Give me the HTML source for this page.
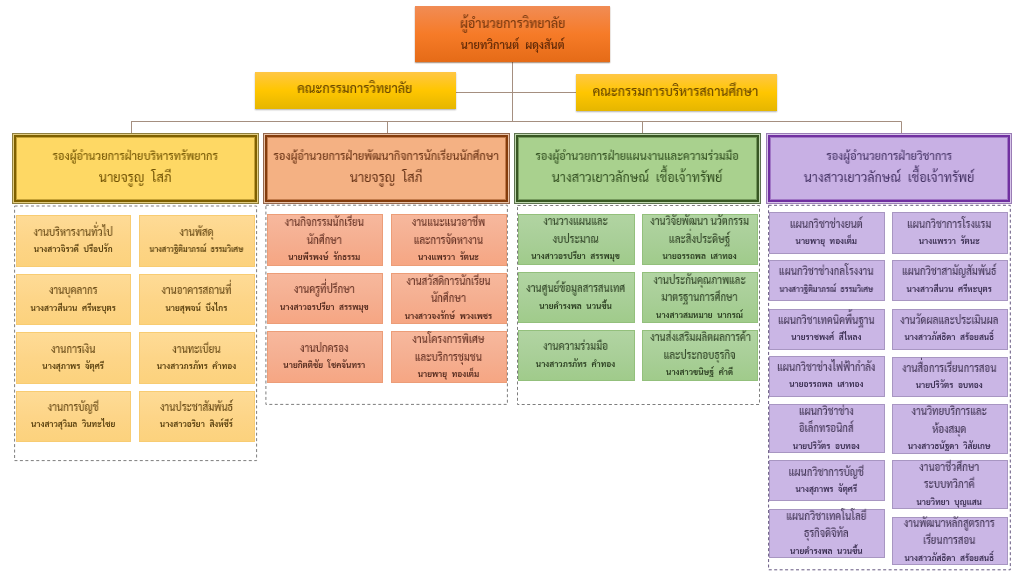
<!DOCTYPE html>
<html lang="th">
<head>
<meta charset="utf-8">
<title>โครงสร้างการบริหารวิทยาลัย</title>
<style>
html,body{margin:0;padding:0;background:#fff;}
body{width:1024px;height:576px;position:relative;overflow:hidden;font-family:"Liberation Sans","Sarabun","Noto Sans Thai","Loma",sans-serif;color:#333;}
.abs{position:absolute;box-sizing:border-box;}
.box{position:absolute;box-sizing:border-box;display:flex;flex-direction:column;justify-content:center;align-items:center;text-align:center;white-space:pre;}
.box div{width:100%;will-change:transform;}
svg{position:absolute;left:0;top:0;}
.top{background:linear-gradient(180deg,#f18c55 0%,#f67b28 50%,#e56b17 100%);box-shadow:0 1px 1.2px rgba(90,40,0,.55);}
.top{padding-top:1.4px;}
.top .t{font-size:12.8px;line-height:20.6px;transform:scaleX(.975);font-weight:500;}
.top .n{font-size:11px;line-height:20.6px;font-weight:600;}
.side{background:linear-gradient(180deg,#ffc746 0%,#ffc600 50%,#e5b600 100%);box-shadow:0 1px 1.5px rgba(0,0,0,.3);}
.side{padding:0 2px 2.6px 0;}
.sr .t{position:relative;top:.5px;}
.side .t{font-size:12.9px;line-height:20px;transform:scaleX(.975);font-weight:500;}
.panel .t{font-size:11.3px;line-height:21.5px;transform:scaleX(.972);font-weight:500;position:relative;top:-.5px;}
.panel .n{font-size:14.2px;line-height:21.5px;transform:scaleX(.9);font-weight:400;position:relative;top:-1.5px;}
.p1{background:#fed864;box-shadow:inset 0 0 0 1px #8f7f3f,inset 0 0 0 2px #e3cd80,inset 0 0 0 4px #7f6000,inset 0 0 0 5px rgba(127,96,0,.45);}
.p2{background:#f4b183;box-shadow:inset 0 0 0 1px #94674d,inset 0 0 0 2px #e8c3a8,inset 0 0 0 4px #843c0c,inset 0 0 0 5px rgba(132,60,12,.45);}
.p3{background:#a9d18e;box-shadow:inset 0 0 0 1px #5e7350,inset 0 0 0 2px #c0d8b0,inset 0 0 0 4px #385723,inset 0 0 0 5px rgba(56,87,35,.45);}
.p4{background:#c8b0e4;box-shadow:inset 0 0 0 1px #9a7db5,inset 0 0 0 2px #d8c6ea,inset 0 0 0 4px #7030a0,inset 0 0 0 5px rgba(112,48,160,.45);}
.panel .n.nw1{transform:scaleX(.888);}
.s .n.nw2{transform:scaleX(.91);}
.s{padding-right:1.2px;}
.s .t{font-size:11.1px;line-height:17.5px;transform:scaleX(.874);font-weight:500;}
.s .n{font-size:8.3px;line-height:17px;font-weight:600;}
.s1{background:linear-gradient(180deg,#fedb96 0%,#fdd588 50%,#fcd27d 100%);border:1px solid #f8cc72;}
.s2{background:linear-gradient(180deg,#f7b89d 0%,#f5af91 50%,#f6a683 100%);border:1px solid #ec9d78;}
.s3{background:linear-gradient(180deg,#b1d4a2 0%,#a9cf98 50%,#a0cb8b 100%);border:1px solid #93c07c;}
.s4{background:#cab6e5;border:1px solid #a896c2;}

.top .t{color:#7a3a10;} .top .n{color:#662c08;}
.side .t{color:#6a4800;}
.p1 .t{color:#7a5c08;} .p1 .n{color:#705204;}
.p2 .t{color:#70391a;} .p2 .n{color:#663216;}
.p3 .t{color:#385626;} .p3 .n{color:#324e20;}
.p4 .t{color:#4c3a6c;} .p4 .n{color:#443264;}
.s1 .t{color:#6a4c18;} .s1 .n{color:#503808;}
.s2 .t{color:#683426;} .s2 .n{color:#4c2418;}
.s3 .t{color:#34482a;} .s3 .n{color:#26381c;}
.s4 .t{color:#453858;} .s4 .n{color:#33284a;}
</style>
</head>
<body>
<svg width="1024" height="576" viewBox="0 0 1024 576"><line x1="512.5" y1="61" x2="512.5" y2="121.5" stroke="#a58f80" stroke-width="1"/><line x1="456" y1="92.5" x2="576" y2="92.5" stroke="#a58f80" stroke-width="1"/><line x1="131" y1="121.5" x2="901.5" y2="121.5" stroke="#a58f80" stroke-width="1"/><line x1="131.5" y1="121.5" x2="131.5" y2="133" stroke="#a58f80" stroke-width="1"/><line x1="387.5" y1="121.5" x2="387.5" y2="133" stroke="#a58f80" stroke-width="1"/><line x1="642.5" y1="121.5" x2="642.5" y2="133" stroke="#a58f80" stroke-width="1"/><line x1="901.5" y1="121.5" x2="901.5" y2="133" stroke="#a58f80" stroke-width="1"/><rect x="14.6" y="206" width="242" height="254.6" fill="none" stroke="#7d7d7d" stroke-width="1" stroke-dasharray="3 2.45"/><rect x="265.9" y="205.2" width="241.5" height="199.2" fill="none" stroke="#7d7d7d" stroke-width="1" stroke-dasharray="3 2.45"/><rect x="517.5" y="205.5" width="242" height="199" fill="none" stroke="#7d7d7d" stroke-width="1" stroke-dasharray="3 2.45"/><rect x="768.6" y="205.3" width="241.7" height="364.5" fill="none" stroke="#665880" stroke-width="1" stroke-dasharray="3 2.45"/></svg>
<div class="box top" style="left:415px;top:6px;width:195.4px;height:56px"><div class="t">ผู้อำนวยการวิทยาลัย</div><div class="n">นายทวิกานต์  ผดุงสันต์</div></div>
<div class="box side" style="left:254.5px;top:72px;width:201.5px;height:37px"><div class="t">คณะกรรมการวิทยาลัย</div></div>
<div class="box side sr" style="left:576.2px;top:74.2px;width:200.8px;height:36.4px"><div class="t">คณะกรรมการบริหารสถานศึกษา</div></div>
<div class="box panel p1" style="left:12px;top:133px;width:246.5px;height:70.5px"><div class="t">รองผู้อำนวยการฝ่ายบริหารทรัพยากร</div><div class="n">นายจรูญ  โสภี</div></div>
<div class="box panel p2" style="left:263.25px;top:133px;width:246.25px;height:70.5px"><div class="t">รองผู้อำนวยการฝ่ายพัฒนากิจการนักเรียนนักศึกษา</div><div class="n">นายจรูญ  โสภี</div></div>
<div class="box panel p3" style="left:514.25px;top:133px;width:246.25px;height:70.5px"><div class="t">รองผู้อำนวยการฝ่ายแผนงานและความร่วมมือ</div><div class="n nw1">นางสาวเยาวลักษณ์  เชื้อเจ้าทรัพย์</div></div>
<div class="box panel p4" style="left:765.5px;top:133px;width:246.25px;height:70.5px"><div class="t">รองผู้อำนวยการฝ่ายวิชาการ</div><div class="n nw1">นางสาวเยาวลักษณ์  เชื้อเจ้าทรัพย์</div></div>
<div class="box s s1" style="left:15.5px;top:215.25px;width:115.5px;height:51.5px"><div class="t">งานบริหารงานทั่วไป</div><div class="n">นางสาวจิรวดี  ปรือปรัก</div></div>
<div class="box s s1" style="left:139px;top:215.25px;width:116px;height:51.5px"><div class="t">งานพัสดุ</div><div class="n nw2">นางสาวฐิติมาภรณ์  ธรรมวิเศษ</div></div>
<div class="box s s1" style="left:15.5px;top:273.5px;width:115.5px;height:51.75px"><div class="t">งานบุคลากร</div><div class="n">นางสาวสีนวน  ศรีหะบุตร</div></div>
<div class="box s s1" style="left:139px;top:273.5px;width:116px;height:51.75px"><div class="t">งานอาคารสถานที่</div><div class="n">นายสุพจน์  บึงไกร</div></div>
<div class="box s s1" style="left:15.5px;top:332.25px;width:115.5px;height:51.5px"><div class="t">งานการเงิน</div><div class="n">นางสุภาพร  จัตุศรี</div></div>
<div class="box s s1" style="left:139px;top:332.25px;width:116px;height:51.5px"><div class="t">งานทะเบียน</div><div class="n">นางสาวภรภัทร  คำทอง</div></div>
<div class="box s s1" style="left:15.5px;top:390.5px;width:115.5px;height:51.25px"><div class="t">งานการบัญชี</div><div class="n">นางสาวสุวิมล  วินทะไชย</div></div>
<div class="box s s1" style="left:139px;top:390.5px;width:116px;height:51.25px"><div class="t">งานประชาสัมพันธ์</div><div class="n">นางสาวอริยา  สิงห์ชีร์</div></div>
<div class="box s s2" style="left:267.25px;top:214.25px;width:115.75px;height:51.5px"><div class="t">งานกิจกรรมนักเรียน</div><div class="t">นักศึกษา</div><div class="n">นายพีรพงษ์  รักธรรม</div></div>
<div class="box s s2" style="left:390.5px;top:214.25px;width:116px;height:51.5px"><div class="t">งานแนะแนวอาชีพ</div><div class="t">และการจัดหางาน</div><div class="n">นางแพรวา  รัตนะ</div></div>
<div class="box s s2" style="left:267.25px;top:273px;width:115.75px;height:51.25px"><div class="t">งานครูที่ปรึกษา</div><div class="n">นางสาวอรปรียา  สรรพมุข</div></div>
<div class="box s s2" style="left:390.5px;top:273px;width:116px;height:51.25px"><div class="t">งานสวัสดิการนักเรียน</div><div class="t">นักศึกษา</div><div class="n">นางสาวจงรักษ์  พวงเพชร</div></div>
<div class="box s s2" style="left:267.25px;top:331.25px;width:115.75px;height:51.75px"><div class="t">งานปกครอง</div><div class="n">นายกิตติชัย  โชคจันทรา</div></div>
<div class="box s s2" style="left:390.5px;top:331.25px;width:116px;height:51.75px"><div class="t">งานโครงการพิเศษ</div><div class="t">และบริการชุมชน</div><div class="n">นายพายุ  ทองเต็ม</div></div>
<div class="box s s3" style="left:518.25px;top:213.5px;width:116.25px;height:51.75px"><div class="t">งานวางแผนและ</div><div class="t">งบประมาณ</div><div class="n">นางสาวอรปรียา  สรรพมุข</div></div>
<div class="box s s3" style="left:641.5px;top:213.5px;width:116.25px;height:51.75px"><div class="t">งานวิจัยพัฒนา นวัตกรรม</div><div class="t">และสิ่งประดิษฐ์</div><div class="n">นายอรรถพล  เสาทอง</div></div>
<div class="box s s3" style="left:518.25px;top:272.25px;width:116.25px;height:50.75px"><div class="t">งานศูนย์ข้อมูลสารสนเทศ</div><div class="n">นายดำรงพล  นวนขึ้น</div></div>
<div class="box s s3" style="left:641.5px;top:272.25px;width:116.25px;height:50.75px"><div class="t">งานประกันคุณภาพและ</div><div class="t">มาตรฐานการศึกษา</div><div class="n">นางสาวสมหมาย  นากรณ์</div></div>
<div class="box s s3" style="left:518.25px;top:329.5px;width:116.25px;height:51.75px"><div class="t">งานความร่วมมือ</div><div class="n">นางสาวภรภัทร  คำทอง</div></div>
<div class="box s s3" style="left:641.5px;top:329.5px;width:116.25px;height:51.75px"><div class="t">งานส่งเสริมผลิตผลการค้า</div><div class="t">และประกอบธุรกิจ</div><div class="n">นางสาวขนิษฐ์  คำดี</div></div>
<div class="box s s4" style="left:768.75px;top:212.25px;width:115.75px;height:41.25px"><div class="t">แผนกวิชาช่างยนต์</div><div class="n">นายพายุ  ทองเต็ม</div></div>
<div class="box s s4" style="left:892.4px;top:212.25px;width:115.6px;height:41.25px"><div class="t">แผนกวิชาการโรงแรม</div><div class="n">นางแพรวา  รัตนะ</div></div>
<div class="box s s4" style="left:768.75px;top:260.25px;width:115.75px;height:40.75px"><div class="t">แผนกวิชาช่างกลโรงงาน</div><div class="n nw2">นางสาวฐิติมาภรณ์  ธรรมวิเศษ</div></div>
<div class="box s s4" style="left:892.4px;top:260.25px;width:115.6px;height:40.75px"><div class="t">แผนกวิชาสามัญสัมพันธ์</div><div class="n">นางสาวสีนวน  ศรีหะบุตร</div></div>
<div class="box s s4" style="left:768.75px;top:308.5px;width:115.75px;height:41px"><div class="t">แผนกวิชาเทคนิคพื้นฐาน</div><div class="n">นายราชพงศ์  สีไหลง</div></div>
<div class="box s s4" style="left:892.4px;top:308.5px;width:115.6px;height:41px"><div class="t">งานวัดผลและประเมินผล</div><div class="n">นางสาวภัสธิดา  สร้อยสนธิ์</div></div>
<div class="box s s4" style="left:768.75px;top:355.5px;width:115.75px;height:41px"><div class="t">แผนกวิชาช่างไฟฟ้ากำลัง</div><div class="n">นายอรรถพล  เสาทอง</div></div>
<div class="box s s4" style="left:892.4px;top:356.75px;width:115.6px;height:40.25px"><div class="t">งานสื่อการเรียนการสอน</div><div class="n">นายปริวัตร  อบทอง</div></div>
<div class="box s s4" style="left:768.75px;top:403.75px;width:115.75px;height:49.5px"><div class="t">แผนกวิชาช่าง</div><div class="t">อิเล็กทรอนิกส์</div><div class="n">นายปริวัตร  อบทอง</div></div>
<div class="box s s4" style="left:892.4px;top:404.25px;width:115.6px;height:49.5px"><div class="t">งานวิทยบริการและ</div><div class="t">ห้องสมุด</div><div class="n">นางสาวธนัฐดา  วิสัยเกษ</div></div>
<div class="box s s4" style="left:768.75px;top:460.25px;width:115.75px;height:41px"><div class="t">แผนกวิชาการบัญชี</div><div class="n">นางสุภาพร  จัตุศรี</div></div>
<div class="box s s4" style="left:892.4px;top:460.25px;width:115.6px;height:48.75px"><div class="t">งานอาชีวศึกษา</div><div class="t">ระบบทวิภาคี</div><div class="n">นายวิทยา  บุญแสน</div></div>
<div class="box s s4" style="left:768.75px;top:508.75px;width:115.75px;height:49.5px"><div class="t">แผนกวิชาเทคโนโลยี</div><div class="t">ธุรกิจดิจิทัล</div><div class="n">นายดำรงพล  นวนขึ้น</div></div>
<div class="box s s4" style="left:892.4px;top:516.5px;width:115.6px;height:48.75px"><div class="t">งานพัฒนาหลักสูตรการ</div><div class="t">เรียนการสอน</div><div class="n">นางสาวภัสธิดา  สร้อยสนธิ์</div></div>
</body>
</html>
